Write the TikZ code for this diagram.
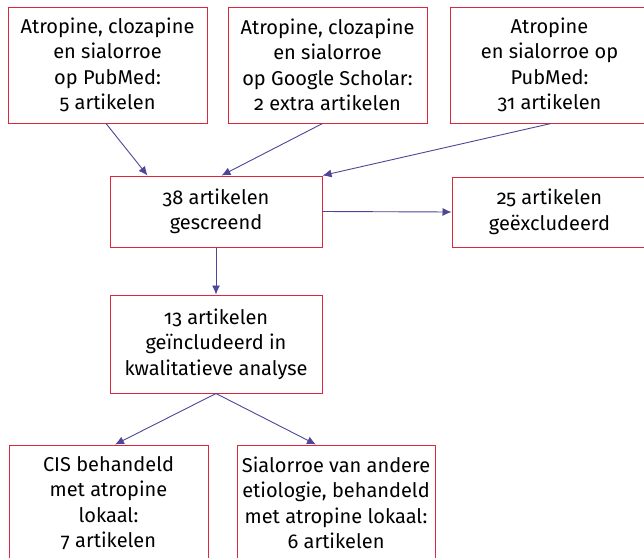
\documentclass[tikz,border=0pt]{standalone}
\usepackage{fontspec}
\setmainfont[Numbers=OldStyle]{Fira Sans}
\usetikzlibrary{arrows.meta}
\definecolor{boxred}{RGB}{220,40,62}
\definecolor{arrowblue}{RGB}{78,70,150}
\tikzset{
  box/.style={draw=boxred, line width=1pt, rectangle, inner sep=0pt, align=center,
    font=\fontsize{20}{25.5}\selectfont},
  conn/.style={draw=arrowblue, line width=0.9pt, -{Latex[length=9pt,width=8pt]}}
}
\begin{document}
\begin{tikzpicture}[x=1pt,y=-1pt]
\clip (0,0) rectangle (644,557);
\fill[white] (0,0) rectangle (644,557);
\node[box, minimum width=199pt, minimum height=116pt] (b1) at (107.5,65)
  {Atropine, clozapine\\en sialorroe\\op PubMed:\\5 artikelen};
\node[box, minimum width=199pt, minimum height=116pt] (b2) at (327.5,65)
  {Atropine, clozapine\\en sialorroe\\op Google Scholar:\\2 extra artikelen};
\node[box, minimum width=199pt, minimum height=116pt] (b3) at (549.5,65)
  {Atropine\\en sialorroe op\\PubMed:\\31 artikelen};
\node[box, minimum width=212pt, minimum height=71pt] (b38) at (216,211.5)
  {38 artikelen\\gescreend};
\node[box, minimum width=195pt, minimum height=70pt] (b25) at (549.5,212)
  {25 artikelen\\geëxcludeerd};
\node[box, minimum width=212pt, minimum height=98pt] (b13) at (216,344)
  {13 artikelen\\geïncludeerd in\\kwalitatieve analyse};
\node[box, minimum width=199pt, minimum height=116pt] (b7) at (108.5,503)
  {CIS behandeld\\met atropine\\lokaal:\\7 artikelen};
\node[box, minimum width=198pt, minimum height=116pt] (b6) at (336,503)
  {Sialorroe van andere\\etiologie, behandeld\\met atropine lokaal:\\6 artikelen};
\draw[conn] ([xshift=-1.5pt]b1.south) -- ([xshift=38pt]b38.north west);
\draw[conn] ([xshift=-5pt]b2.south) -- ([xshift=112pt]b38.north west);
\draw[conn] ([xshift=1.5pt]b3.south) -- (b38.north east);
\draw[conn] (b38.east) -- (b25.west);
\draw[conn] (b38.south) -- (b13.north);
\draw[conn] (b13.south) -- ([xshift=6.5pt]b7.north);
\draw[conn] (b13.south) -- ([xshift=-20pt]b6.north);
\end{tikzpicture}
\end{document}
